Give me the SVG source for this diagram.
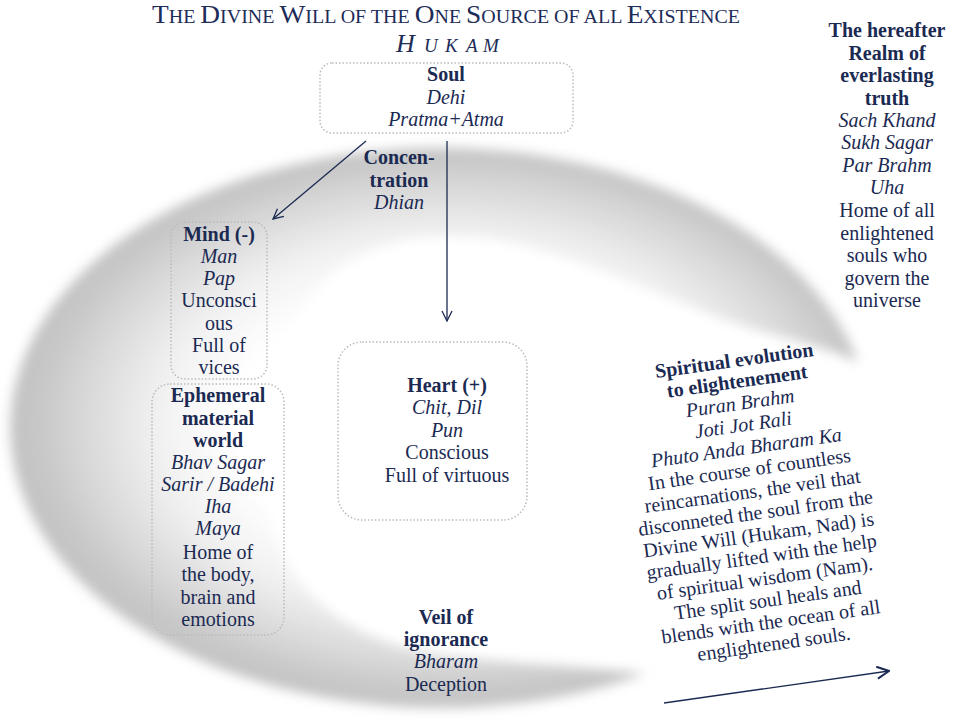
<svg xmlns="http://www.w3.org/2000/svg" width="960" height="720" viewBox="0 0 960 720">
<defs>
<style>
text{font-family:"Liberation Serif","Times New Roman",serif;fill:#1b2a52;font-size:20px;text-anchor:middle}
.b{font-weight:bold}
.i{font-style:italic}
.box{fill:none;stroke:#bbbbbb;stroke-width:1.5;stroke-dasharray:1.5 2}
.con{stroke:#1b2a52;stroke-width:1.3;fill:none}
</style>
<radialGradient id="ring" gradientUnits="userSpaceOnUse" cx="450" cy="425" r="430" gradientTransform="translate(450 425) scale(1 0.651) translate(-450 -425)">
<stop offset="0.5" stop-color="#ffffff"/>
<stop offset="0.68" stop-color="#f1f1f1"/>
<stop offset="0.84" stop-color="#dadada"/>
<stop offset="0.95" stop-color="#c8c8c8"/>
<stop offset="1" stop-color="#c4c4c4"/>
</radialGradient>
<filter id="blur" x="-10%" y="-10%" width="120%" height="120%"><feGaussianBlur stdDeviation="6"/></filter>
<marker id="ah" viewBox="0 0 12 12" refX="11" refY="6" markerWidth="12" markerHeight="12" markerUnits="userSpaceOnUse" orient="auto">
<path d="M1,1 L11,6 L1,11" fill="none" stroke="#1b2a52" stroke-width="1.3"/>
</marker>
<marker id="ah2" viewBox="0 0 14 14" refX="13" refY="7" markerWidth="14" markerHeight="14" markerUnits="userSpaceOnUse" orient="auto">
<path d="M1,1 L13,7 L1,13" fill="none" stroke="#1b2a52" stroke-width="2"/>
</marker>
</defs>
<rect width="960" height="720" fill="#ffffff"/>
<g id="background">
<path d="M858,362 A430,280 0 1 0 645,674 C600,668 520,664 450,656 C360,646 290,600 272,520 C255,440 270,330 330,275 C380,235 450,228 520,245 C600,265 680,305 740,325 C790,340 830,348 858,362 Z" fill="url(#ring)" filter="url(#blur)"/>
</g>
<g id="title">
<text x="446" y="23" textLength="588" lengthAdjust="spacingAndGlyphs" style="font-size:26px;fill:#1d2c58">T<tspan style="font-size:19px">HE </tspan>D<tspan style="font-size:19px">IVINE </tspan>W<tspan style="font-size:19px">ILL OF THE </tspan>O<tspan style="font-size:19px">NE </tspan>S<tspan style="font-size:19px">OURCE OF ALL </tspan>E<tspan style="font-size:19px">XISTENCE</tspan></text>
<text x="396" y="52" class="i" style="font-size:26px;fill:#1d2c58;text-anchor:start">H<tspan x="424 445 466 483" style="font-size:19px">UKAM</tspan></text>
</g>
<g id="connectors">
<line class="con" x1="366" y1="141" x2="273" y2="219" marker-end="url(#ah)"/>
<line class="con" x1="447" y1="141" x2="447" y2="321" marker-end="url(#ah)"/>
<line class="con" x1="664" y1="703" x2="889" y2="671" stroke-width="2" marker-end="url(#ah2)"/>
</g>
<g id="soul">
<rect class="box" x="320" y="63" width="253" height="70" rx="12"/>
<text x="446" y="81" class="b">Soul</text>
<text x="446" y="104" class="i">Dehi</text>
<text x="446" y="126" class="i">Pratma+Atma</text>
</g>
<g id="concentration">
<text x="399" y="164" class="b">Concen-</text>
<text x="399" y="187" class="b">tration</text>
<text x="399" y="209" class="i">Dhian</text>
</g>
<g id="mind">
<rect class="box" x="171" y="222" width="96" height="157" rx="14"/>
<text x="219" y="241" class="b">Mind (-)</text>
<text x="219" y="263" class="i">Man</text>
<text x="219" y="285" class="i">Pap</text>
<text x="219" y="307">Unconsci</text>
<text x="219" y="330">ous</text>
<text x="219" y="352">Full of</text>
<text x="219" y="374">vices</text>
</g>
<g id="ephemeral">
<rect class="box" x="152" y="384" width="132" height="251" rx="18"/>
<text x="218" y="402" class="b">Ephemeral</text>
<text x="218" y="425" class="b">material</text>
<text x="218" y="447" class="b">world</text>
<text x="218" y="469" class="i">Bhav Sagar</text>
<text x="218" y="491" class="i">Sarir / Badehi</text>
<text x="218" y="513" class="i">Iha</text>
<text x="218" y="535" class="i">Maya</text>
<text x="218" y="559">Home of</text>
<text x="218" y="581">the body,</text>
<text x="218" y="604">brain and</text>
<text x="218" y="626">emotions</text>
</g>
<g id="heart">
<rect class="box" x="338" y="342" width="189" height="178" rx="24"/>
<text x="447" y="392" class="b">Heart (+)</text>
<text x="447" y="414" class="i">Chit, Dil</text>
<text x="447" y="437" class="i">Pun</text>
<text x="447" y="459">Conscious</text>
<text x="447" y="482">Full of virtuous</text>
</g>
<g id="hereafter">
<text x="887" y="37" class="b">The hereafter</text>
<text x="887" y="60" class="b">Realm of</text>
<text x="887" y="82" class="b">everlasting</text>
<text x="887" y="105" class="b">truth</text>
<text x="887" y="127" class="i">Sach Khand</text>
<text x="887" y="149" class="i">Sukh Sagar</text>
<text x="887" y="172" class="i">Par Brahm</text>
<text x="887" y="194" class="i">Uha</text>
<text x="887" y="217">Home of all</text>
<text x="887" y="240">enlightened</text>
<text x="887" y="262">souls who</text>
<text x="887" y="285">govern the</text>
<text x="887" y="307">universe</text>
</g>
<g id="veil">
<text x="446" y="624" class="b">Veil of</text>
<text x="446" y="646" class="b">ignorance</text>
<text x="446" y="668" class="i">Bharam</text>
<text x="446" y="691">Deception</text>
</g>
<g id="evolution" transform="translate(735,367) rotate(-8)">
<text x="0" y="0" class="b">Spiritual evolution</text>
<text x="0" y="21" class="b">to elightenement</text>
<text x="0" y="43" class="i">Puran Brahm</text>
<text x="0" y="65" class="i">Joti Jot Rali</text>
<text x="0" y="88" class="i">Phuto Anda Bharam Ka</text>
<text x="0" y="110">In the course of countless</text>
<text x="0" y="132">reincarnations, the veil that</text>
<text x="0" y="154">disconneted the soul from the</text>
<text x="0" y="176">Divine Will (Hukam, Nad) is</text>
<text x="0" y="198">gradually lifted with the help</text>
<text x="0" y="220">of spiritual wisdom (Nam).</text>
<text x="0" y="242">The split soul heals and</text>
<text x="0" y="264">blends with the ocean of all</text>
<text x="0" y="286">englightened souls.</text>
</g>
</svg>
